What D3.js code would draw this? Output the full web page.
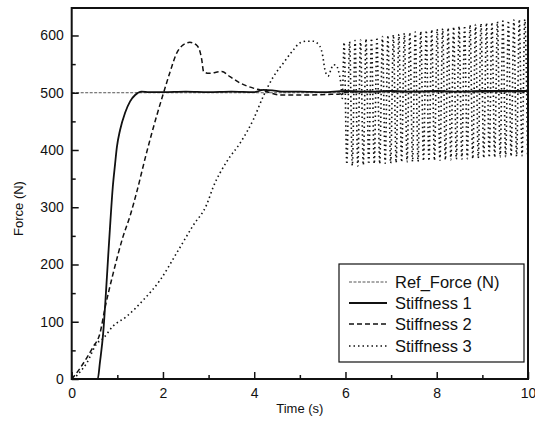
<!DOCTYPE html>
<html><head><meta charset="utf-8">
<script src="https://cdn.jsdelivr.net/npm/d3@7"></script>
<style>
body{margin:0;background:#fff;}
svg{display:block;font-family:"Liberation Sans",Arial,Helvetica,sans-serif;}
</style></head>
<body><svg id="c" width="535" height="427"></svg>
<script>
// ---- data ----
const xMajorTicks = [0, 2, 4, 6, 8, 10];
const xMinorTicks = [1, 3, 5, 7, 9];
const yMajorTicks = [0, 100, 200, 300, 400, 500, 600];
const yMinorTicks = [50, 150, 250, 350, 450, 550];
const seriesNames = ["Ref_Force (N)", "Stiffness 1", "Stiffness 2", "Stiffness 3"];

const refTime = [0, 10];
const refForce = [500, 500];

const s1Time = [0, 0.57, 0.62, 0.69, 0.75, 0.80, 0.85, 0.90, 0.95, 0.99, 1.06, 1.17, 1.28, 1.39, 1.53, 1.7, 2.0, 2.5, 3.0, 3.5, 4.0, 4.2, 4.4, 4.6, 5.0, 5.5, 6.0, 6.5, 7.0, 7.5, 8.0, 8.5, 9.0, 9.5, 10];
const s1Force = [0, 0, 30, 80, 150, 215, 278, 335, 375, 405, 435, 465, 485, 496, 502, 501, 501, 502, 501, 502, 501, 505, 504, 502, 502, 501, 503, 502, 503, 502, 503, 502, 503, 503, 503];

const s2Time = [0, 0.15, 0.33, 0.47, 0.62, 0.73, 0.91, 1.13, 1.28, 1.42, 1.64, 1.86, 2.01, 2.15, 2.30, 2.45, 2.59, 2.75, 2.85, 2.89, 3.0, 3.29, 3.47, 3.69, 3.98, 4.13, 4.27, 4.57, 5.15, 5.6, 5.88, 6.0, 6.5, 7, 8, 9, 10];
const s2Force = [0, 15, 37, 56, 80, 124, 185, 250, 285, 325, 395, 459, 499, 535, 569, 584, 588, 582, 558, 537, 534, 537, 528, 517, 508, 505, 502, 496, 496, 497, 498, 501, 502, 502, 502, 502, 502];

const s3Time = [0.10, 0.33, 0.55, 0.69, 0.90, 1.20, 1.57, 1.94, 2.30, 2.66, 2.96, 3.10, 3.40, 3.69, 3.98, 4.20, 4.42, 4.64, 4.86, 5.00, 5.15, 5.29, 5.44, 5.50, 5.55, 5.62, 5.68, 5.73, 5.80, 5.84, 5.90, 5.93,
  5.97, 6.03, 6.09, 6.15, 6.21, 6.27, 6.33, 6.39, 6.45, 6.51, 6.57, 6.63, 6.69, 6.75, 6.81, 6.87, 6.93, 6.99,
  7.05, 7.11, 7.17, 7.23, 7.29, 7.35, 7.41, 7.47, 7.53, 7.59, 7.65, 7.71, 7.77, 7.83, 7.89, 7.95,
  8.01, 8.07, 8.13, 8.19, 8.25, 8.31, 8.37, 8.43, 8.49, 8.55, 8.61, 8.67, 8.73, 8.79, 8.85, 8.91, 8.97,
  9.03, 9.09, 9.15, 9.21, 9.27, 9.33, 9.39, 9.45, 9.51, 9.57, 9.63, 9.69, 9.75, 9.81, 9.87, 9.93, 9.99];
const s3Force = [5, 28, 62, 71, 92, 109, 138, 173, 220, 268, 305, 335, 380, 412, 453, 494, 528, 552, 575, 587, 590, 590, 581, 565, 540, 529, 540, 549, 548, 540, 515, 490,
  588, 375, 589, 373, 591, 372, 592, 374, 594, 375, 595, 376, 597, 376, 598, 377, 600, 377,
  601, 378, 602, 379, 604, 379, 605, 380, 606, 380, 607, 381, 609, 381, 610, 382,
  611, 382, 612, 383, 613, 383, 615, 384, 616, 384, 617, 385, 618, 385, 619, 386, 621,
  386, 622, 387, 623, 387, 624, 388, 625, 388, 626, 389, 627, 389, 628, 390, 628, 390];

// ---- layout ----
const svg = d3.select("#c");
const X0 = 71.7, X1 = 528, Y0 = 379, Y1 = 8;
const x = d3.scaleLinear().domain([0, 10]).range([X0, X1]);
const y = d3.scaleLinear().domain([0, 648]).range([Y0, Y1]);

svg.append("defs").append("clipPath").attr("id", "clip")
  .append("rect").attr("x", X0).attr("y", Y1).attr("width", X1 - X0).attr("height", Y0 - Y1);

const ink = "#111";
const styles = [
  {stroke: "#555", width: 1, dash: "3,1.5"},
  {stroke: ink, width: 1.8, dash: null},
  {stroke: ink, width: 1.5, dash: "5,3"},
  {stroke: ink, width: 1.6, dash: "1.5,3"}
];
const seriesT = [refTime, s1Time, s2Time, s3Time];
const seriesV = [refForce, s1Force, s2Force, s3Force];

const line = d3.line().x(d => x(d[0])).y(d => y(d[1])).curve(d3.curveMonotoneX);
const gPlot = svg.append("g").attr("clip-path", "url(#clip)");
seriesT.forEach((ts, i) => {
  const pts = ts.map((t, j) => [t, seriesV[i][j]]);
  const p = gPlot.append("path").datum(pts).attr("d", line)
    .attr("fill", "none").attr("stroke", styles[i].stroke)
    .attr("stroke-width", styles[i].width).attr("stroke-linejoin", "round");
  if (styles[i].dash) p.attr("stroke-dasharray", styles[i].dash);
});

// ---- axes ----
const fontTick = 14;
function styleAxis(g) {
  g.select(".domain").remove();
  g.selectAll(".tick line").attr("stroke", ink).attr("stroke-width", 1.5);
  g.selectAll("text").attr("fill", ink).attr("font-size", fontTick);
}
svg.append("g").attr("transform", `translate(0,${Y0})`)
  .call(d3.axisBottom(x).tickValues(xMajorTicks).tickSize(-7).tickPadding(9).tickFormat(d3.format("d")))
  .call(styleAxis);
svg.append("g").attr("transform", `translate(0,${Y0})`)
  .call(d3.axisBottom(x).tickValues(xMinorTicks).tickSize(-4).tickFormat(""))
  .call(styleAxis);
svg.append("g").attr("transform", `translate(${X0},0)`)
  .call(d3.axisLeft(y).tickValues(yMajorTicks).tickSize(-7).tickPadding(8).tickFormat(d3.format("d")))
  .call(styleAxis);
svg.append("g").attr("transform", `translate(${X0},0)`)
  .call(d3.axisLeft(y).tickValues(yMinorTicks).tickSize(-4).tickFormat(""))
  .call(styleAxis);

// frame
svg.append("rect").attr("x", X0).attr("y", Y1).attr("width", X1 - X0).attr("height", Y0 - Y1)
  .attr("fill", "none").attr("stroke", ink).attr("stroke-width", 2);

// axis titles
svg.append("text").attr("x", (X0 + X1) / 2).attr("y", 413).attr("text-anchor", "middle")
  .attr("font-size", 13).attr("fill", ink).text("Time (s)");
svg.append("text").attr("transform", `translate(23,${(Y0 + Y1) / 2 + 15}) rotate(-90)`)
  .attr("text-anchor", "middle").attr("font-size", 13).attr("fill", ink).text("Force (N)");

// legend
const lg = svg.append("g");
lg.append("rect").attr("x", 339).attr("y", 264).attr("width", 185).attr("height", 98)
  .attr("fill", "#fff").attr("stroke", ink).attr("stroke-width", 1.2);
const rowY = [282, 303, 324, 346];
seriesNames.forEach((name, i) => {
  const l = lg.append("line").attr("x1", 349).attr("x2", 387).attr("y1", rowY[i]).attr("y2", rowY[i])
    .attr("stroke", styles[i].stroke).attr("stroke-width", styles[i].width);
  if (styles[i].dash) l.attr("stroke-dasharray", styles[i].dash);
  lg.append("text").attr("x", 395).attr("y", rowY[i] + 6).attr("font-size", 16.5)
    .attr("fill", ink).text(name);
});
</script></body></html>
